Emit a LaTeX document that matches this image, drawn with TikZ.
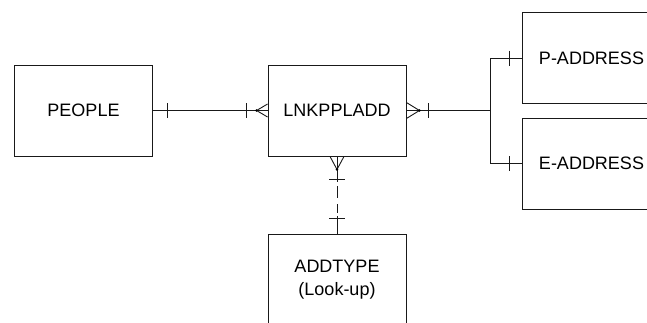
\documentclass[tikz,border=0pt]{standalone}
\usepackage{fontspec}
\setmainfont{Liberation Sans}
\usepackage{tikz}
\usetikzlibrary{positioning, calc}

\begin{document}
\begin{tikzpicture}[
  x=1pt, y=-1pt,
  every node/.style={font=\fontsize{18}{23}\selectfont},
  entity/.style={rectangle, draw=black!90, line width=0.9pt,
                 minimum width=138pt, minimum height=91pt,
                 inner sep=0pt, align=center},
  rel/.style={draw=black!90, line width=0.9pt},
  lookup/.style={rel, dash pattern=on 26pt off 4pt on 12pt off 6pt on 9pt off 3pt on 20pt},
]
  \useasboundingbox (0,0) rectangle (647,322);
  \clip (0,0) rectangle (647,322);

  % ── Entities ─────────────────────────────────────
  \node[entity] (people)  at ( 83.5, 110.5) {PEOPLE};
  \node[entity] (lnk)     at (337,   110.5) {LNKPPLADD};
  \node[entity] (paddr)   at (591.5,  58)   {P-ADDRESS};
  \node[entity] (eaddr)   at (591.5, 163.5) {E-ADDRESS};
  \node[entity] (addtype) at (337,   279.5) {ADDTYPE\\(Look-up)};

  % ── PEOPLE to LNKPPLADD (one to many) ────────────
  \draw[rel] (people) -- (lnk);
  \draw[rel] ([xshift=14pt]people.east) ++(0,-7.5) -- ++(0,15);
  \draw[rel] ([xshift=-21pt]lnk.west) ++(0,-7.5) -- ++(0,15);
  \draw[rel] ([yshift=6.5pt]lnk.west) -- ([xshift=-11pt]lnk.west)
             -- ([yshift=-6.5pt]lnk.west);
  \fill ([xshift=-11pt]lnk.west) circle (1.4pt);

  % ── LNKPPLADD to P-/E-ADDRESS (many to one) ──────
  \draw[rel] (lnk.east) -- ++(84,0) coordinate (fork) |- (paddr.west);
  \draw[rel] (fork) |- (eaddr.west);
  \draw[rel] ([yshift=8pt]lnk.east) -- ([xshift=13pt]lnk.east)
             -- ([yshift=-8pt]lnk.east);
  \fill ([xshift=13pt]lnk.east) circle (1.4pt);
  \draw[rel] ([xshift=22pt]lnk.east) ++(0,-7.5) -- ++(0,15);
  \draw[rel] ([xshift=-13pt]paddr.west) ++(0,-7.5) -- ++(0,15);
  \draw[rel] ([xshift=-13pt]eaddr.west) ++(0,-7.5) -- ++(0,15);

  % ── LNKPPLADD to ADDTYPE (look-up, dashed) ───────
  \draw[lookup] (lnk.south) -- (addtype.north);
  \draw[rel] ([xshift=-7pt]lnk.south) -- ([yshift=-13pt]lnk.south)
             -- ([xshift=7pt]lnk.south);
  \fill ([yshift=-13pt]lnk.south) circle (1.4pt);
  \draw[rel] ([yshift=-23pt]lnk.south) ++(-8,0) -- ++(16,0);
  \draw[rel] ([yshift=15pt]addtype.north) ++(-8,0) -- ++(16,0);
\end{tikzpicture}
\end{document}
